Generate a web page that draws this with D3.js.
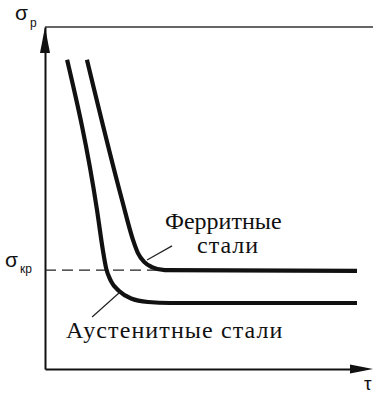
<!DOCTYPE html>
<html><head><meta charset="utf-8">
<script src="https://cdn.jsdelivr.net/npm/d3@7"></script>
<style>
html,body{margin:0;padding:0;background:#fff;overflow:hidden}
svg{display:block}
</style></head>
<body>
<script>
// ---- data (τ, σ in arbitrary 0..100 units) ----
const seriesNames = ["Ферритные стали", "Аустенитные стали"];
const ferriticTau   = [12.9, 23.7, 27.1, 28.6, 30.5, 32.9, 36.9, 96.0];
const ferriticSigma = [90.4, 49.4, 37.7, 33.9, 31.3, 29.8, 28.9, 28.7];
const austeniticTau   = [6.8, 16.0, 17.8, 18.8, 20.3, 22.8, 26.5, 31.7, 38.5, 96.0];
const austeniticSigma = [90.4, 46.5, 34.8, 29.5, 25.7, 22.8, 20.6, 19.6, 19.3, 19.3];
const sigmaCritical = 28.9;
const axisLabels = {y: "σ", ySub: "p", x: "τ", crit: "σ", critSub: "кр"};
const ferriticLabel = ["Ферритные", "стали"];
const austeniticLabel = "Аустенитные стали";

const W = 373, H = 393;
const svg = d3.select("body").append("svg").attr("width", W).attr("height", H);

const x = d3.scaleLinear().domain([0, 100]).range([45, 370]);
const y = d3.scaleLinear().domain([0, 100]).range([369, 27]);

// top frame line
svg.append("line").attr("x1", x(0)).attr("x2", W).attr("y1", y(100)).attr("y2", y(100))
  .attr("stroke", "#333").attr("stroke-width", 1.5);

// axes (no ticks)
const yAxis = svg.append("g").attr("transform", `translate(${x(0)},0)`)
  .call(d3.axisLeft(y).tickValues([]).tickSizeOuter(0));
const xAxis = svg.append("g").attr("transform", `translate(0,${y(0)})`)
  .call(d3.axisBottom(x.copy().range([x(0), 360])).tickValues([]).tickSizeOuter(0));
[yAxis, xAxis].forEach(g => g.select(".domain").attr("stroke", "#111").attr("stroke-width", 2));

// arrows
svg.append("path").attr("d", `M${x(0)},${y(100)} L${x(0)-5},${y(100)+26} L${x(0)+5},${y(100)+26} Z`).attr("fill", "#111");
svg.append("path").attr("d", `M${W},${y(0)} L${W-23},${y(0)-4.5} L${W-23},${y(0)+4.5} Z`).attr("fill", "#111");

// critical stress dashed line
svg.append("line").attr("x1", x(0)).attr("x2", x(40)).attr("y1", y(sigmaCritical)).attr("y2", y(sigmaCritical))
  .attr("stroke", "#222").attr("stroke-width", 1.3).attr("stroke-dasharray", "11,6");

// curves
const line = d3.line().x(d => x(d[0])).y(d => y(d[1])).curve(d3.curveMonotoneX);
const ferr = d3.zip(ferriticTau, ferriticSigma);
const aust = d3.zip(austeniticTau, austeniticSigma);
svg.selectAll("path.curve").data([ferr, aust]).join("path").attr("class", "curve")
  .attr("d", line).attr("fill", "none").attr("stroke", "#111").attr("stroke-width", 4.2)
  .attr("stroke-linecap", "butt").attr("stroke-linejoin", "round");

// leader lines
svg.append("line").attr("x1", x(31.4)).attr("y1", y(31.9)).attr("x2", x(39.1)).attr("y2", y(36.0))
  .attr("stroke", "#222").attr("stroke-width", 1.2);
svg.append("line").attr("x1", x(23.1)).attr("y1", y(22.5)).attr("x2", x(14.5)).attr("y2", y(15.2))
  .attr("stroke", "#222").attr("stroke-width", 1.2);

// texts
const serif = "'Liberation Serif'";
const sans = "'Liberation Sans'";
svg.append("text").attr("x", 165).attr("y", 229)
  .style("font-family", serif).style("font-size", "24px").attr("fill", "#111")
  .text(ferriticLabel[0]);
svg.append("text").attr("x", 197).attr("y", 253)
  .style("font-family", serif).style("font-size", "24px").style("letter-spacing", "1px").attr("fill", "#111")
  .text(ferriticLabel[1]);
svg.append("text").attr("x", 66).attr("y", 338)
  .style("font-family", serif).style("font-size", "24px").style("letter-spacing", "1.1px").attr("fill", "#111")
  .text(austeniticLabel);

// axis labels
const yl = svg.append("text").attr("x", 15).attr("y", 20).style("font-family", sans).attr("fill", "#111");
yl.append("tspan").style("font-size", "21px").text(axisLabels.y);
yl.append("tspan").style("font-size", "12px").attr("dx", 2).attr("dy", 7).text(axisLabels.ySub);

const cl = svg.append("text").attr("x", 5).attr("y", 267).style("font-family", sans).attr("fill", "#111");
cl.append("tspan").style("font-size", "21px").text(axisLabels.crit);
cl.append("tspan").style("font-size", "12px").attr("dx", 2).attr("dy", 6).text(axisLabels.critSub);

svg.append("text").attr("x", 364).attr("y", 390).style("font-family", sans).style("font-size", "19px")
  .attr("fill", "#111").text(axisLabels.x);
</script>
</body></html>
